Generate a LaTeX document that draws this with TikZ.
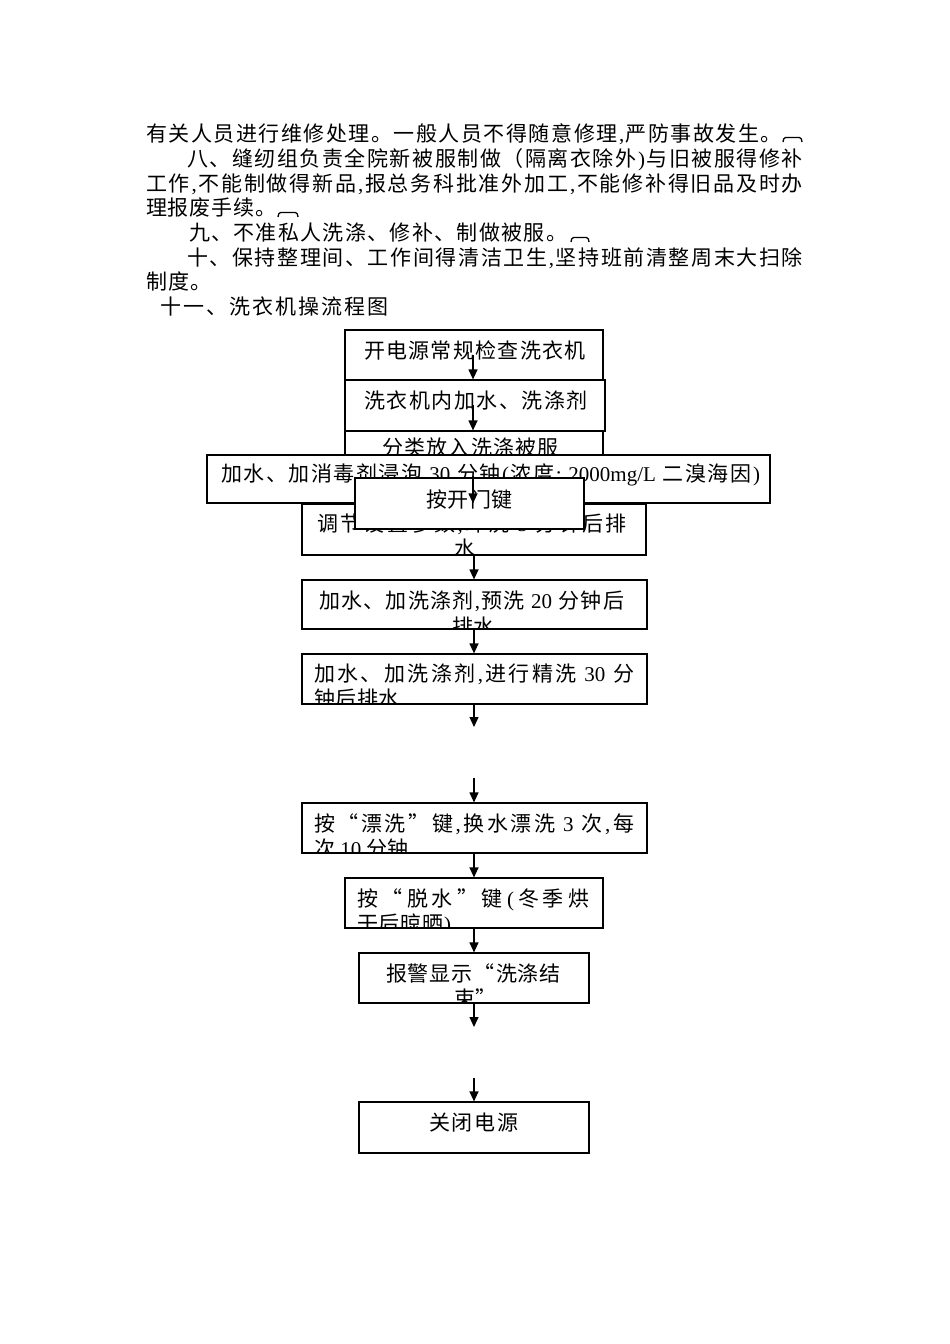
\documentclass[tikz,border=0pt]{standalone}
\usepackage{fontspec}
\setmainfont{Liberation Serif}
\newfontfamily\cjk{Noto Sans CJK SC}
\newfontfamily\lat{Liberation Serif}
\usetikzlibrary{arrows.meta}
\ExplSyntaxOn
\NewDocumentCommand\sline{mm}{\makebox[#1][s]{\tl_map_inline:nn{#2}{{##1}\hfil}\unskip}}
\ExplSyntaxOff
\tikzset{
  txt/.style={inner sep=0pt, outer sep=0pt, anchor=base west, font=\cjk\fontsize{21pt}{25pt}\selectfont},
  flowbox/.style={draw, fill=white, line width=1.2pt, inner sep=0pt, rectangle},
  flowarrow/.style={line width=1.2pt, -{Triangle[length=10pt,width=9pt]}},
  parabr/.style={line width=1.3pt, rounded corners=1.5pt},
}
\begin{document}
\begin{tikzpicture}[x=1pt,y=-1pt]
\useasboundingbox (0,0) rectangle (950,1344);
% ---------- paragraph text ----------
\node[txt] (t1) at (146,141) {\sline{636pt}{有关人员进行维修处理。一般人员不得随意修理{\lat,}严防事故发生。}};
\draw[parabr] (783,142) -- (784,137.5) -- (801,137.5) -- (802,142);
\node[txt] (t2) at (187,166) {\sline{616pt}{八、缝纫组负责全院新被服制做（隔离衣除外{\lat)}与旧被服得修补}};
\node[txt] (t3) at (146,191) {\sline{657pt}{工作{\lat,}不能制做得新品{\lat,}报总务科批准外加工{\lat,}不能修补得旧品及时办}};
\node[txt] (t4) at (146,215) {\sline{131pt}{理报废手续。}};
\draw[parabr] (278,217) -- (279,212.5) -- (297,212.5) -- (298,217);
\node[txt] (t5) at (189,240) {\sline{378pt}{九、不准私人洗涤、修补、制做被服。}};
\draw[parabr] (571,242) -- (572,237.5) -- (588,237.5) -- (589,242);
\node[txt] (t6) at (187,265) {\sline{616pt}{十、保持整理间、工作间得清洁卫生{\lat,}坚持班前清整周末大扫除}};
\node[txt] (t7) at (146,289) {\sline{66pt}{制度。}};
\node[txt] (t8) at (160,314) {\sline{229pt}{十一、洗衣机操流程图}};
% ---------- flowchart ----------
\coordinate (bx) at (474,0);
% B1
\node[flowbox, minimum width=258pt, minimum height=50pt] (B1) at (474,355) {};
\node[txt] (B1t) at (364,358) {\sline{222pt}{开电源常规检查洗衣机}};
% B2
\node[flowbox, minimum width=260pt, minimum height=51pt] (B2) at (475,405.5) {};
\node[txt] (B2t) at (364,408) {\sline{224pt}{洗衣机内加水、洗涤剂}};
% B3
\node[flowbox, minimum width=258pt, minimum height=50pt] (B3) at (474,456) {};
\node[txt] (B3t) at (382,455) {\sline{177pt}{分类放入洗涤被服}};
% B6
\node[flowbox, minimum width=344pt, minimum height=51pt] (B6) at (474,529.5) {};
\begin{scope}
\clip ([xshift=1pt,yshift=-1pt]B6.north west) rectangle ([xshift=-1pt,yshift=2pt]B6.south east);
\node[txt] (B6t) at (317,531) {\sline{310pt}{调节设置参数{\lat,}冲洗{\lat\ 5\ }分钟后排}};
\node[txt] (B6u) at (454,556) {水};
\end{scope}
% W
\node[flowbox, minimum width=563pt, minimum height=48pt] (W) at (488.5,479) {};
\node[txt] (Wt) at (221,481) {\sline{539pt}{加水、加消毒剂浸泡{\lat\ 30\ }分钟{\lat(}浓度{\lat:\ }{\lat 2000mg/L\ }二溴海因{\lat)}}};
% K
\node[flowbox, minimum width=229pt, minimum height=51pt] (K) at (469.5,503.5) {};
\node[txt] (Kt) at (426,507) {\sline{87pt}{按开门键}};
% arrows top
\coordinate (a1) at (473,355);
\coordinate (a2) at (473,405);
\coordinate (a3) at (473,476);
\draw[flowarrow] (a1) -- (a1 |- B2.north);
\draw[flowarrow] (a2) -- (a2 |- B3.north);
\draw[flowarrow] (a3) -- (a3 |- B6.north);
% B7
\node[flowbox, minimum width=345pt, minimum height=49pt] (B7) at (474.5,604.5) {};
\begin{scope}
\clip ([xshift=1pt,yshift=-1pt]B7.north west) rectangle ([xshift=-1pt,yshift=2pt]B7.south east);
\node[txt] (B7t) at (319,608) {\sline{305pt}{加水、加洗涤剂{\lat,}预洗{\lat\ 20\ }分钟后}};
\node[txt] (B7u) at (452,634) {\sline{42pt}{排水}};
\end{scope}
% B8
\node[flowbox, minimum width=345pt, minimum height=50pt] (B8) at (474.5,679) {};
\begin{scope}
\clip ([xshift=1pt,yshift=-1pt]B8.north west) rectangle ([xshift=-1pt,yshift=2pt]B8.south east);
\node[txt] (B8t) at (314,681) {\sline{320pt}{加水、加洗涤剂{\lat,}进行精洗{\lat\ 30\ }分}};
\node[txt] (B8u) at (314,706.5) {\sline{86pt}{钟后排水}};
\end{scope}
% B11
\node[flowbox, minimum width=345pt, minimum height=50pt] (B11) at (474.5,828) {};
\begin{scope}
\clip ([xshift=1pt,yshift=-1pt]B11.north west) rectangle ([xshift=-1pt,yshift=2pt]B11.south east);
\node[txt] (B11t) at (314,831) {\sline{320pt}{按“漂洗”键{\lat,}换水漂洗{\lat\ 3\ }次{\lat,}每}};
\node[txt] (B11u) at (314,856.5) {\sline{95pt}{次{\lat\ 10\ }分钟}};
\end{scope}
% B12
\node[flowbox, minimum width=258pt, minimum height=50pt] (B12) at (474,903) {};
\begin{scope}
\clip ([xshift=1pt,yshift=-1pt]B12.north west) rectangle ([xshift=-1pt,yshift=2pt]B12.south east);
\node[txt] (B12t) at (357,906) {\sline{232pt}{按“脱水”键{\lat(}冬季烘}};
\node[txt] (B12u) at (357,931.5) {\sline{94pt}{干后晾晒{\lat)}}};
\end{scope}
% B13
\node[flowbox, minimum width=230pt, minimum height=50pt] (B13) at (474,978) {};
\begin{scope}
\clip ([xshift=1pt,yshift=-1pt]B13.north west) rectangle ([xshift=-1pt,yshift=2pt]B13.south east);
\node[txt] (B13t) at (386,981) {\sline{175pt}{报警显示“洗涤结}};
\node[txt] (B13u) at (454,1006.5) {\sline{29pt}{束”}};
\end{scope}
% B16
\node[flowbox, minimum width=230pt, minimum height=51pt] (B16) at (474,1127.5) {};
\node[txt] (B16t) at (429,1130) {\sline{89pt}{关闭电源}};
% lower arrows
\coordinate (c1) at (474,727);
\coordinate (c2) at (474,778);
\coordinate (c3) at (474,1027);
\coordinate (c4) at (474,1078);
\draw[flowarrow] (B6.south -| bx) -- (B7.north -| bx);
\draw[flowarrow] (B7.south -| bx) -- (B8.north -| bx);
\draw[flowarrow] (B8.south -| bx) -- (c1);
\draw[flowarrow] (c2) -- (B11.north -| bx);
\draw[flowarrow] (B11.south -| bx) -- (B12.north -| bx);
\draw[flowarrow] (B12.south -| bx) -- (B13.north -| bx);
\draw[flowarrow] (B13.south -| bx) -- (c3);
\draw[flowarrow] (c4) -- (B16.north -| bx);
\end{tikzpicture}
\end{document}
